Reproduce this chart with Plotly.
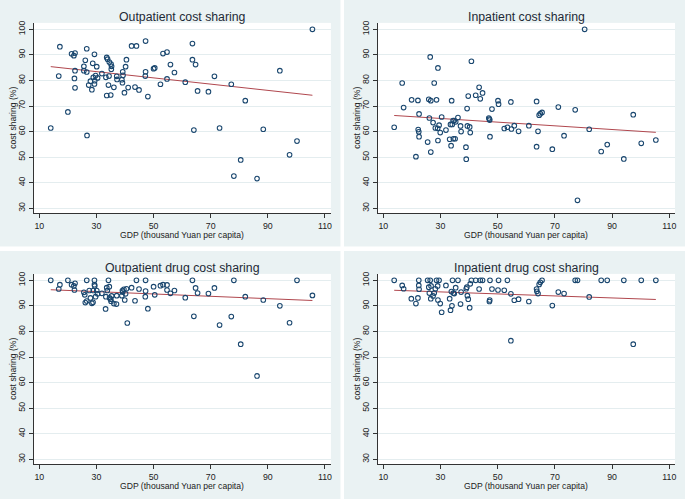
import plotly.graph_objects as go

# panel 1: outpatient cost sharing
gdp_op = [14.0, 16.8, 17.2, 20.0, 21.3, 22.1, 22.5, 22.5, 22.3, 22.5, 25.6, 25.6, 26.1, 26.6, 26.6,
          26.7, 27.3, 27.9, 28.4, 28.7, 28.9, 29.3, 29.3, 29.4, 29.7, 30.1, 30.4, 31.9, 33.3, 33.6,
          33.6, 33.9, 34.2, 34.4, 34.5, 35.0, 35.1, 35.3, 35.2, 36.1, 37.1, 37.2, 38.9, 39.2, 39.3,
          39.1, 39.8, 40.2, 40.5, 41.1, 42.3, 43.5, 44.0, 44.9, 47.1, 47.2, 47.2, 48.0, 50.0, 50.4,
          52.4, 53.3, 54.7, 54.7, 55.9, 57.3, 61.1, 63.6, 63.6, 64.1, 64.7, 65.4, 69.2, 71.3, 73.1,
          77.2, 78.1, 80.5, 82.1, 86.2, 88.4, 94.2, 97.6, 100.2, 105.6]
share_op = [61.4, 81.7, 93.2, 67.7, 90.4, 89.7, 90.7, 83.8, 80.8, 77.1, 85.5, 83.8, 87.9, 92.4, 83.3,
            58.5, 78.2, 79.7, 76.4, 86.7, 81.2, 90.2, 78.6, 79.9, 81.9, 85.4, 81.0, 82.7, 81.2, 89.0,
            74.1, 88.3, 78.2, 81.7, 87.2, 74.3, 86.4, 85.5, 84.4, 77.3, 81.6, 80.4, 80.3, 83.4, 82.0,
            79.1, 75.2, 85.4, 88.1, 77.2, 93.5, 77.4, 93.5, 76.3, 81.7, 83.4, 95.4, 73.7, 84.6, 84.9,
            78.5, 90.5, 91.1, 80.6, 86.2, 83.1, 79.3, 94.4, 88.1, 60.6, 86.2, 75.9, 75.6, 81.6, 61.4,
            78.5, 42.6, 48.9, 72.1, 41.6, 60.9, 83.8, 50.9, 56.3, 100.0]

# panel 2: inpatient cost sharing
gdp_ip = [13.8, 16.6, 17.1, 19.9, 21.4, 22.1, 22.2, 22.4, 22.5, 22.5, 25.5, 25.9, 26.1, 26.4, 26.6,
          26.6, 27.4, 27.8, 28.2, 28.6, 29.0, 29.1, 29.1, 29.5, 29.9, 30.4, 31.9, 33.2, 33.5, 33.7,
          33.9, 34.1, 34.4, 34.5, 34.8, 35.1, 35.3, 36.1, 37.0, 37.2, 38.9, 39.0, 39.3, 39.4, 39.7,
          40.2, 40.4, 40.8, 42.3, 43.5, 43.9, 44.7, 46.9, 47.1, 47.2, 47.3, 48.0, 50.1, 50.3, 52.3,
          53.4, 54.6, 54.8, 55.8, 57.3, 60.9, 63.6, 63.6, 64.1, 64.5, 64.9, 65.5, 69.1, 71.2, 73.2,
          77.1, 77.9, 80.4, 82.0, 86.2, 88.3, 94.1, 97.4, 100.2, 105.3]
share_ip = [61.7, 79.0, 69.4, 72.4, 50.2, 72.2, 60.8, 59.9, 66.9, 58.0, 55.9, 72.6, 65.3, 89.2, 72.1,
            52.0, 63.5, 79.0, 61.4, 72.4, 61.3, 84.9, 56.5, 62.5, 59.6, 65.7, 60.6, 57.0, 62.8, 54.5,
            72.1, 62.8, 64.3, 57.2, 64.3, 57.2, 63.8, 65.5, 62.2, 60.0, 53.9, 49.2, 69.0, 62.2, 73.9,
            61.8, 59.6, 87.5, 74.2, 77.3, 72.8, 75.1, 65.3, 64.9, 64.5, 58.0, 68.8, 72.1, 70.7, 61.2,
            61.7, 71.6, 61.0, 62.3, 60.1, 62.3, 71.8, 54.1, 60.1, 66.4, 67.0, 67.5, 53.1, 69.6, 58.4,
            68.5, 33.1, 100.0, 60.9, 52.2, 54.9, 49.3, 66.6, 55.4, 56.7]

# panel 3: outpatient drug cost sharing
gdp_od = [14.0, 16.8, 17.2, 20.0, 21.3, 22.1, 22.5, 22.3, 25.6, 25.9, 26.1, 26.6, 26.6, 27.5, 27.9,
          28.4, 28.8, 28.9, 29.3, 29.3, 29.4, 29.7, 30.1, 30.4, 31.9, 33.2, 33.3, 33.6, 33.8, 34.2,
          34.5, 34.6, 35.0, 35.3, 35.1, 36.1, 37.0, 37.1, 38.9, 39.1, 39.2, 39.6, 39.9, 40.2, 40.5,
          40.8, 42.3, 43.5, 44.0, 44.9, 47.1, 47.2, 47.2, 48.0, 50.0, 50.4, 52.4, 53.3, 54.7, 54.7,
          55.9, 57.3, 61.1, 63.6, 64.1, 64.7, 65.4, 69.2, 71.3, 73.1, 77.2, 78.1, 80.5, 82.1, 86.2,
          88.4, 94.2, 97.6, 100.2, 105.6]
share_od = [100.0, 96.6, 98.3, 100.0, 98.3, 97.8, 98.8, 96.2, 95.3, 94.3, 91.3, 91.9, 100.0, 96.0, 93.1,
            91.0, 91.4, 96.0, 100.0, 98.3, 97.8, 93.6, 96.0, 94.7, 94.9, 88.8, 93.6, 97.1, 96.0, 100.0,
            97.5, 93.1, 92.6, 93.9, 91.8, 90.9, 90.7, 94.0, 94.0, 96.0, 95.4, 96.5, 92.3, 94.7, 96.7,
            83.3, 97.1, 92.0, 100.0, 96.6, 93.6, 95.8, 100.0, 88.9, 97.5, 94.3, 97.9, 98.3, 98.2, 96.2,
            94.9, 96.0, 93.2, 100.0, 85.9, 97.0, 95.0, 94.8, 97.0, 82.5, 85.8, 100.0, 75.0, 93.6, 62.6,
            92.3, 90.0, 83.4, 100.0, 94.1]

# panel 4: inpatient drug cost sharing
gdp_id = [13.8, 16.6, 17.1, 19.8, 21.4, 22.1, 22.4, 22.4, 22.5, 25.5, 25.9, 26.1, 26.4, 26.6, 26.7,
          27.4, 27.8, 28.2, 28.6, 29.0, 29.1, 29.5, 29.9, 30.4, 31.9, 33.2, 33.5, 33.8, 34.0, 34.2,
          34.5, 34.8, 35.3, 36.1, 37.0, 37.2, 39.0, 39.2, 39.4, 39.7, 40.2, 40.4, 40.8, 42.3, 43.5,
          43.9, 44.7, 47.1, 47.2, 47.3, 48.0, 50.1, 50.3, 52.3, 53.4, 54.6, 54.6, 55.8, 57.3, 60.9,
          63.6, 63.7, 64.1, 64.5, 64.9, 65.5, 69.1, 71.2, 73.2, 77.1, 77.9, 82.0, 86.2, 88.3, 94.1,
          97.4, 100.2, 105.3]
share_id = [100.0, 98.0, 96.7, 92.8, 90.9, 93.1, 100.0, 98.0, 96.5, 100.0, 97.3, 95.0, 100.0, 92.8, 97.8,
            93.9, 95.0, 96.7, 100.0, 97.8, 92.3, 100.0, 90.9, 87.5, 98.0, 92.8, 88.3, 95.6, 90.0, 100.0,
            95.0, 94.8, 97.1, 100.0, 90.7, 95.4, 96.7, 97.3, 94.0, 92.6, 89.3, 98.6, 100.0, 100.0, 96.6,
            100.0, 100.0, 91.7, 92.3, 100.0, 96.6, 96.2, 100.0, 96.1, 100.0, 94.7, 76.4, 92.2, 92.6, 91.7,
            96.6, 95.7, 94.8, 98.4, 99.2, 100.0, 90.1, 95.4, 94.8, 100.0, 100.0, 93.5, 100.0, 100.0, 100.0,
            75.0, 100.0, 100.0]

# fitted line end points
fit_x = [[14.0, 105.6], [13.8, 105.3], [14.0, 105.6], [13.8, 105.3]]
fit_y = [[85.4, 74.2], [66.3, 59.7], [96.3, 92.1], [96.1, 92.5]]

titles = ["Outpatient cost sharing", "Inpatient cost sharing",
          "Outpatient drug cost sharing", "Inpatient drug cost sharing"]
panels = [(gdp_op, share_op), (gdp_ip, share_ip), (gdp_od, share_od), (gdp_id, share_id)]

W, H = 685, 499
BG = "#EAF2F3"
NAVY = "#1A476F"
FIT = "#B0474E"
TXT = "#222"
FONT = "Liberation Sans, Arial, sans-serif"

# plot areas in pixels (left, right, top, bottom)
areas = [(33.6, 330.7, 22.9, 213.4), (377.6, 675.0, 22.9, 213.4),
         (33.6, 330.7, 273.9, 464.4), (377.6, 675.0, 273.9, 464.4)]

fig = go.Figure()
shapes = []
annotations = []
for i, ((x, y), title, (l, r, t, b)) in enumerate(zip(panels, titles, areas)):
    n = "" if i == 0 else str(i + 1)
    fig.add_trace(go.Scatter(
        x=fit_x[i], y=fit_y[i], mode="lines", xaxis="x" + n, yaxis="y" + n,
        line=dict(color=FIT, width=1), showlegend=False))
    fig.add_trace(go.Scatter(
        x=x, y=y, mode="markers", xaxis="x" + n, yaxis="y" + n,
        marker=dict(symbol="circle-open", size=4.6, color=NAVY, line=dict(width=1.1, color=NAVY)),
        showlegend=False))

    xd = [l / W, r / W]
    yd = [1 - b / H, 1 - t / H]
    fig.layout["xaxis" + n] = dict(
        domain=xd, anchor="y" + n, range=[8, 112], tickvals=[10, 30, 50, 70, 90, 110],
        showgrid=False, zeroline=False, showline=True, linecolor="#333", linewidth=1,
        ticks="outside", ticklen=4, tickcolor="#333", tickfont=dict(size=8.8, color=TXT),
        automargin=False)
    fig.layout["yaxis" + n] = dict(
        domain=yd, anchor="x" + n, range=[28, 102.5], tickvals=[30, 40, 50, 60, 70, 80, 90, 100],
        showgrid=True, gridcolor="#E4EDEF", gridwidth=1, zeroline=False,
        showline=True, linecolor="#333", linewidth=1, ticks="outside", ticklen=4, tickcolor="#333",
        tickangle=-90, tickfont=dict(size=8.8, color=TXT), automargin=False)
    # white plot region
    shapes.append(dict(type="rect", xref="paper", yref="paper", x0=xd[0], x1=xd[1], y0=yd[0], y1=yd[1],
                       fillcolor="white", line=dict(width=0), layer="below"))
    annotations.append(dict(text=title, xref="paper", yref="paper", x=(xd[0] + xd[1]) / 2,
                            y=1 - (t - 6.2) / H, xanchor="center", yanchor="middle", showarrow=False,
                            font=dict(size=12.3, color="#1e2a36")))
    annotations.append(dict(text="GDP (thousand Yuan per capita)", xref="paper", yref="paper",
                            x=(xd[0] + xd[1]) / 2, y=1 - (b + 22) / H, xanchor="center", yanchor="middle",
                            showarrow=False, font=dict(size=8.6, color=TXT)))
    annotations.append(dict(text="cost sharing (%)", xref="paper", yref="paper", textangle=-90,
                            x=(l - 20) / W, y=(yd[0] + yd[1]) / 2, xanchor="center", yanchor="middle",
                            showarrow=False, font=dict(size=8.6, color=TXT)))

# white gaps between panels
shapes.insert(0, dict(type="rect", xref="paper", yref="paper", x0=340.5 / W, x1=344 / W, y0=0, y1=1,
                      fillcolor="white", line=dict(width=0), layer="below"))
shapes.insert(0, dict(type="rect", xref="paper", yref="paper", x0=0, x1=1, y0=1 - 251 / H, y1=1 - 246.5 / H,
                      fillcolor="white", line=dict(width=0), layer="below"))

fig.update_layout(
    width=W, height=H, margin=dict(l=0, r=0, t=0, b=0),
    paper_bgcolor=BG, plot_bgcolor="white",
    font=dict(family=FONT), shapes=shapes, annotations=annotations)

# drop the browser's default page margin so the figure sits at the window corner
fig.write_html("out.html", config={"displayModeBar": False},
               post_script="document.body.style.margin='0px';")
